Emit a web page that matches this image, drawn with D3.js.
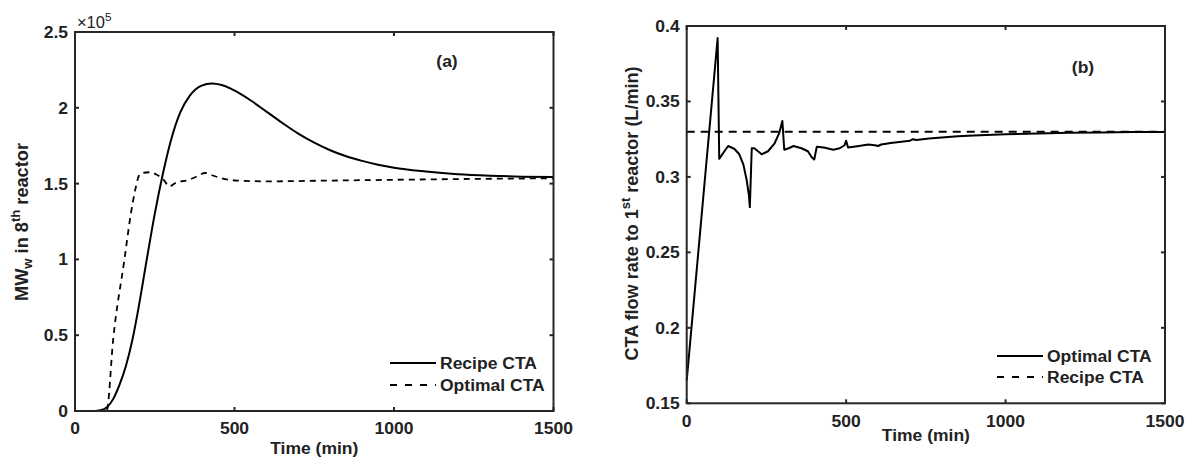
<!DOCTYPE html>
<html>
<head>
<meta charset="utf-8">
<script src="https://cdn.jsdelivr.net/npm/d3@7"></script>
<style>
  html, body { margin: 0; padding: 0; background: #fff; }
  svg { display: block; }
  text { font-family: "Liberation Sans", Arial, sans-serif; fill: #222; }
</style>
</head>
<body>
<svg id="chart" width="1186" height="459"></svg>
<script>
// ---- Panel (a): weight-average molecular weight in the 8th reactor (×10^5) ----
const timeRecipeA = [0, 60, 80, 100, 120, 140, 160, 180, 200, 225, 250, 275, 300, 330, 360, 395, 430, 460, 490, 520, 550, 600, 650, 700, 750, 800, 850, 900, 950, 1000, 1100, 1200, 1300, 1400, 1500];
const mwRecipeA   = [0, 0, 0.005, 0.025, 0.08, 0.175, 0.3, 0.47, 0.69, 1.0, 1.3, 1.56, 1.78, 1.97, 2.08, 2.145, 2.16, 2.15, 2.125, 2.09, 2.05, 1.975, 1.9, 1.83, 1.77, 1.72, 1.68, 1.65, 1.625, 1.605, 1.58, 1.562, 1.552, 1.546, 1.543];

const timeOptimalA = [0, 90, 99, 120, 155, 175, 190, 200, 210, 235, 255, 280, 295, 305, 320, 350, 380, 408, 430, 460, 507, 600, 800, 1000, 1200, 1500];
const mwOptimalA   = [0, 0, 0, 0.48, 1.0, 1.3, 1.47, 1.55, 1.57, 1.575, 1.56, 1.52, 1.48, 1.49, 1.51, 1.52, 1.545, 1.57, 1.555, 1.535, 1.52, 1.515, 1.52, 1.525, 1.53, 1.535];

// ---- Panel (b): CTA flow rate to the 1st reactor (L/min) ----
const timeOptimalB = [0, 97, 102, 115, 130, 150, 165, 178, 188, 195, 198, 204, 212, 235, 255, 275, 290, 300, 306, 320, 335, 360, 380, 392, 400, 408, 430, 460, 480, 495, 500, 506, 540, 570, 590, 600, 610, 640, 680, 700, 710, 720, 760, 800, 850, 900, 1000, 1100, 1200, 1300, 1400, 1500];
const flowOptimalB = [0.165, 0.392, 0.312, 0.316, 0.3205, 0.3185, 0.315, 0.308, 0.298, 0.288, 0.28, 0.319, 0.319, 0.315, 0.317, 0.322, 0.329, 0.337, 0.318, 0.319, 0.3205, 0.319, 0.317, 0.313, 0.3115, 0.32, 0.3195, 0.318, 0.319, 0.321, 0.324, 0.3195, 0.3205, 0.3215, 0.321, 0.3205, 0.3215, 0.3225, 0.3235, 0.324, 0.325, 0.3245, 0.3255, 0.3262, 0.327, 0.3275, 0.3282, 0.3287, 0.3292, 0.3295, 0.3297, 0.3298];

const timeRecipeB = [0, 1500];
const flowRecipeB = [0.33, 0.33];

// ---- Tick labels ----
const xTicks  = [0, 500, 1000, 1500];
const yTicksA = [0, 0.5, 1, 1.5, 2, 2.5];
const yTicksB = [0.15, 0.2, 0.25, 0.3, 0.35, 0.4];

const svg = d3.select("#chart");
const AXIS = "#262626";
const SX = 1.03;            // slight horizontal widening of the lettering
const FS = 17;

function zip(xs, ys) { return xs.map((x, i) => [x, ys[i]]); }

// horizontal text, widened about its anchor point
function hText(g, x, y, str, anchor, opts = {}) {
  const t = g.append("text")
    .attr("transform", `translate(${x},${y}) scale(${SX},1)`)
    .attr("text-anchor", anchor)
    .attr("font-size", opts.size || FS)
    .attr("font-weight", opts.weight || "bold");
  t.text(str);
  return t;
}

function panel(cfg) {
  const x = d3.scaleLinear().domain([0, 1500]).range([cfg.left, cfg.right]);
  const y = d3.scaleLinear().domain(cfg.yDomain).range([cfg.bottom, cfg.top]);
  const g = svg.append("g");
  const tk = 4;

  // data lines
  const line = d3.line().x(d => x(d[0])).y(d => y(d[1]));
  cfg.series.forEach(s => {
    g.append("path")
      .datum(zip(s.t, s.v))
      .attr("fill", "none")
      .attr("stroke", "#000")
      .attr("stroke-width", s.width || 2)
      .attr("stroke-dasharray", s.dash || null)
      .attr("stroke-linejoin", "round")
      .attr("d", line.curve(s.curve || d3.curveLinear));
  });

  // frame
  g.append("rect")
    .attr("x", cfg.left).attr("y", cfg.top)
    .attr("width", cfg.right - cfg.left).attr("height", cfg.bottom - cfg.top)
    .attr("fill", "none").attr("stroke", AXIS).attr("stroke-width", 2);

  // inward ticks on all four sides
  xTicks.forEach(v => {
    g.append("line").attr("x1", x(v)).attr("x2", x(v)).attr("y1", cfg.bottom).attr("y2", cfg.bottom - tk).attr("stroke", AXIS).attr("stroke-width", 2);
    g.append("line").attr("x1", x(v)).attr("x2", x(v)).attr("y1", cfg.top).attr("y2", cfg.top + tk).attr("stroke", AXIS).attr("stroke-width", 2);
    hText(g, x(v), cfg.bottom + cfg.xLabelOff, String(v), "middle");
  });
  cfg.yTicks.forEach(v => {
    g.append("line").attr("y1", y(v)).attr("y2", y(v)).attr("x1", cfg.left).attr("x2", cfg.left + tk).attr("stroke", AXIS).attr("stroke-width", 2);
    g.append("line").attr("y1", y(v)).attr("y2", y(v)).attr("x1", cfg.right).attr("x2", cfg.right - tk).attr("stroke", AXIS).attr("stroke-width", 2);
    hText(g, cfg.left - 7, y(v) + 6, cfg.yFmt(v), "end");
  });

  // x axis title
  hText(g, (cfg.left + cfg.right) / 2, cfg.xTitleY, "Time (min)", "middle");

  // y axis title (rotated, with sub/superscripts)
  const yt = g.append("text")
    .attr("transform", `translate(${cfg.yTitleX},${cfg.yTitleMid}) rotate(-90) scale(${cfg.yTitleLen},1.1)`)
    .attr("text-anchor", "middle")
    .attr("font-size", FS)
    .attr("font-weight", "bold");
  cfg.yTitle.forEach(p => {
    const ts = yt.append("tspan").text(p.s);
    if (p.sub) ts.attr("font-size", FS * 0.72).attr("baseline-shift", "-4");
    if (p.sup) ts.attr("font-size", FS * 0.72).attr("baseline-shift", "7");
  });

  // panel tag
  hText(g, cfg.tagX, cfg.tagY, cfg.tag, "middle");

  // legend
  cfg.legend.forEach((L, i) => {
    const ly = cfg.legY + i * cfg.legGap;
    g.append("line").attr("x1", cfg.legX).attr("x2", cfg.legX + 46).attr("y1", ly).attr("y2", ly)
      .attr("stroke", "#000").attr("stroke-width", 2).attr("stroke-dasharray", L.dash || null);
    hText(g, cfg.legX + 50, ly + 6, L.label, "start");
  });
  return g;
}

// panel (a)
const ga = panel({
  left: 75, right: 553.5, top: 32, bottom: 411,
  yDomain: [0, 2.5], yTicks: yTicksA, yFmt: d => String(d),
  xLabelOff: 23, xTitleY: 454,
  yTitleX: 28, yTitleMid: 222, yTitleLen: 1.07,
  yTitle: [{ s: "MW" }, { s: "w", sub: true }, { s: " in  8" }, { s: "th", sup: true }, { s: " reactor" }],
  tag: "(a)", tagX: 447, tagY: 67,
  legX: 390, legY: 363, legGap: 22,
  legend: [{ label: "Recipe CTA" }, { label: "Optimal CTA", dash: "7,8" }],
  series: [
    { t: timeRecipeA, v: mwRecipeA, curve: d3.curveMonotoneX },
    { t: timeOptimalA, v: mwOptimalA, curve: d3.curveMonotoneX, dash: "6,5", width: 1.8 }
  ]
});

// exponent marker on the left y axis
const ex = ga.append("text")
  .attr("transform", `translate(77,28) scale(${SX},1)`)
  .attr("font-size", 16);
ex.append("tspan").text("×10");
ex.append("tspan").attr("font-size", 11.5).attr("baseline-shift", "7").text("5");

// panel (b)
panel({
  left: 686.7, right: 1165, top: 26, bottom: 403.3,
  yDomain: [0.15, 0.4], yTicks: yTicksB, yFmt: d => String(+d.toFixed(2)),
  xLabelOff: 24, xTitleY: 441,
  yTitleX: 638, yTitleMid: 213.5, yTitleLen: 1.06,
  yTitle: [{ s: "CTA flow rate to  1" }, { s: "st", sup: true }, { s: " reactor (L/min)" }],
  tag: "(b)", tagX: 1083, tagY: 73,
  legX: 997, legY: 356, legGap: 21,
  legend: [{ label: "Optimal CTA" }, { label: "Recipe CTA", dash: "7,8" }],
  series: [
    { t: timeOptimalB, v: flowOptimalB },
    { t: timeRecipeB, v: flowRecipeB, dash: "8,6" }
  ]
});
</script>
</body>
</html>
